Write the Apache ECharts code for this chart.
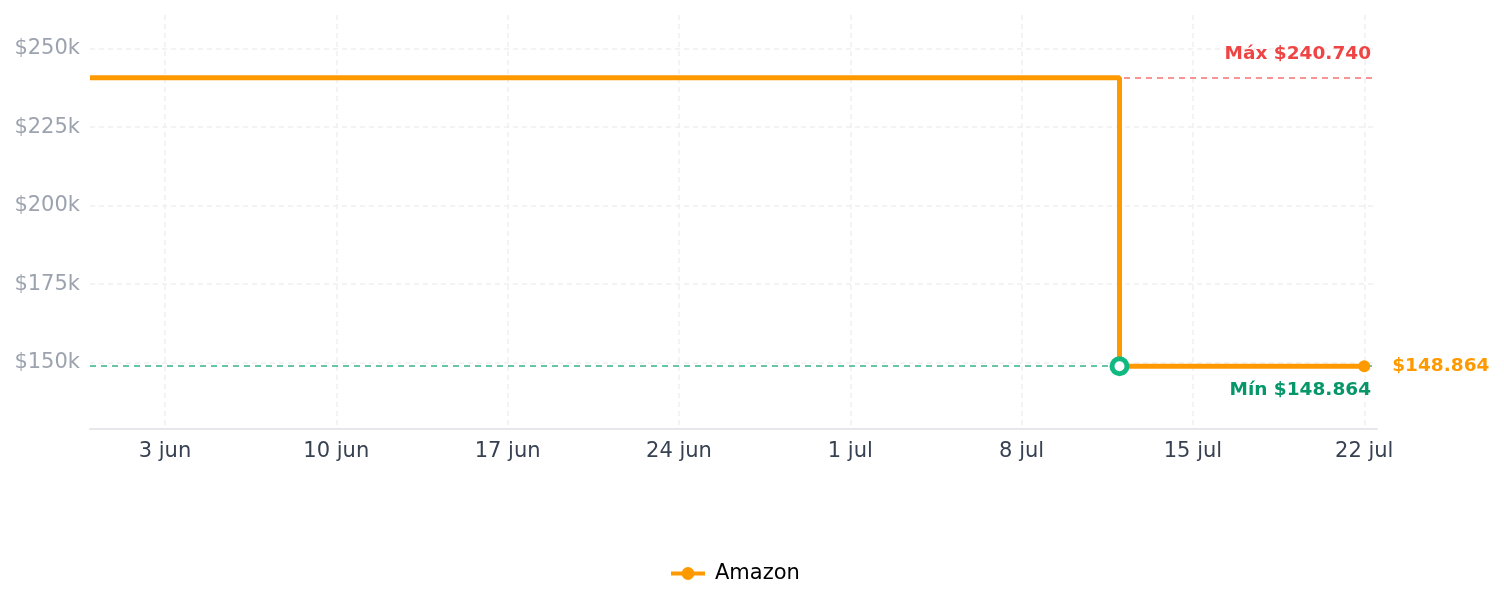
<!DOCTYPE html>
<html>
<head>
<meta charset="utf-8">
<title>Amazon</title>
<script src="https://cdn.jsdelivr.net/npm/echarts@6/dist/echarts.min.js"></script>
<style>
  html, body { margin: 0; padding: 0; background: #fff; }
  #main { width: 1504px; height: 607px; }
</style>
</head>
<body>
<div id="main"></div>
<script>
// datos de precio (paso)
var fechas = ['2021-05-30 22:30', '2021-07-12', '2021-07-22'];
var precios = [240740, 148864, 148864];
var ticksX = ['2021-06-03', '2021-06-10', '2021-06-17', '2021-06-24', '2021-07-01', '2021-07-08', '2021-07-15', '2021-07-22'];
var ticksY = [150000, 175000, 200000, 225000, 250000];
var meses = ['ene', 'feb', 'mar', 'abr', 'may', 'jun', 'jul', 'ago', 'sep', 'oct', 'nov', 'dic'];
var xMin = '2021-05-30 22:30';
var xMax = '2021-07-22 12:30';
var yMin = 128864;
var yMax = 260740;

function toMs(s) { return +echarts.time.parse(s); }
function precio(v) {
  return '$' + String(v).replace(/\B(?=(\d{3})+(?!\d))/g, '.');
}

var datos = [];
for (var i = 0; i < fechas.length; i++) {
  datos.push([toMs(fechas[i]), precios[i]]);
}
var ultimo = datos.length - 1;

var chart = echarts.init(document.getElementById('main'));
var gridLine = { show: true, lineStyle: { color: '#efefef', width: 1.5, type: [5, 4] } };

chart.setOption({
  animation: false,
  grid: { left: 90, right: 127, top: 15, bottom: 178 },
  legend: {
    data: ['Amazon'],
    top: 563,
    left: 669,
    padding: 0,
    itemWidth: 34,
    itemHeight: 16,
    itemGap: 10,
    lineStyle: { width: 4 },
    textStyle: { fontSize: 21, color: '#000', fontFamily: 'DejaVu Sans', padding: [0, 0, 0, 5] }
  },
  xAxis: {
    type: 'value',
    min: toMs(xMin),
    max: toMs(xMax),
    axisLine: { show: true, lineStyle: { color: '#e5e7eb', width: 2 } },
    axisTick: { show: false, customValues: ticksX.map(toMs) },
    axisLabel: {
      customValues: ticksX.map(toMs),
      margin: 12,
      fontSize: 21,
      color: '#374151',
      fontFamily: 'DejaVu Sans',
      formatter: function (v) {
        var d = new Date(v);
        return d.getDate() + ' ' + meses[d.getMonth()];
      }
    },
    splitLine: gridLine
  },
  yAxis: {
    type: 'value',
    min: yMin,
    max: yMax,
    axisLine: { show: false },
    axisTick: { show: false, customValues: ticksY },
    axisLabel: {
      customValues: ticksY,
      margin: 10,
      fontSize: 21,
      color: '#9ca3af',
      fontFamily: 'DejaVu Sans',
      formatter: function (v) { return '$' + (v / 1000) + 'k'; }
    },
    splitLine: gridLine
  },
  series: [{
    name: 'Amazon',
    type: 'line',
    step: 'end',
    data: datos,
    color: '#ff9900',
    symbol: 'circle',
    showSymbol: true,
    symbolSize: function (v, p) { return p.dataIndex === ultimo ? 12 : 0; },
    lineStyle: { width: 5, color: '#ff9900' },
    itemStyle: { color: '#ff9900' },
    endLabel: {
      show: true,
      distance: 28,
      formatter: function (p) { return precio(p.value[1]); },
      color: '#ff9900',
      fontSize: 18.5,
      fontWeight: 'bold',
      fontFamily: 'DejaVu Sans'
    },
    markPoint: {
      symbol: 'circle',
      symbolSize: 15,
      itemStyle: { color: '#fff', borderColor: '#10b981', borderWidth: 5 },
      label: { show: false },
      data: [{ type: 'min' }]
    },
    markLine: {
      z: 1,
      silent: true,
      symbol: ['none', 'none'],
      data: [
        {
          type: 'max',
          lineStyle: { color: '#f87171', width: 1.5, type: [6, 5] },
          label: {
            position: 'insideEndTop',
            formatter: function (p) { return 'Máx ' + precio(p.value); },
            color: '#ef4444', fontSize: 18.5, fontWeight: 'bold', fontFamily: 'DejaVu Sans', distance: [6, 14]
          }
        },
        {
          type: 'min',
          lineStyle: { color: '#34b48a', width: 1.5, type: [6, 5] },
          label: {
            position: 'insideEndBottom',
            formatter: function (p) { return 'Mín ' + precio(p.value); },
            color: '#059669', fontSize: 18.5, fontWeight: 'bold', fontFamily: 'DejaVu Sans', distance: [6, 14]
          }
        }
      ]
    }
  }]
});
</script>
</body>
</html>
